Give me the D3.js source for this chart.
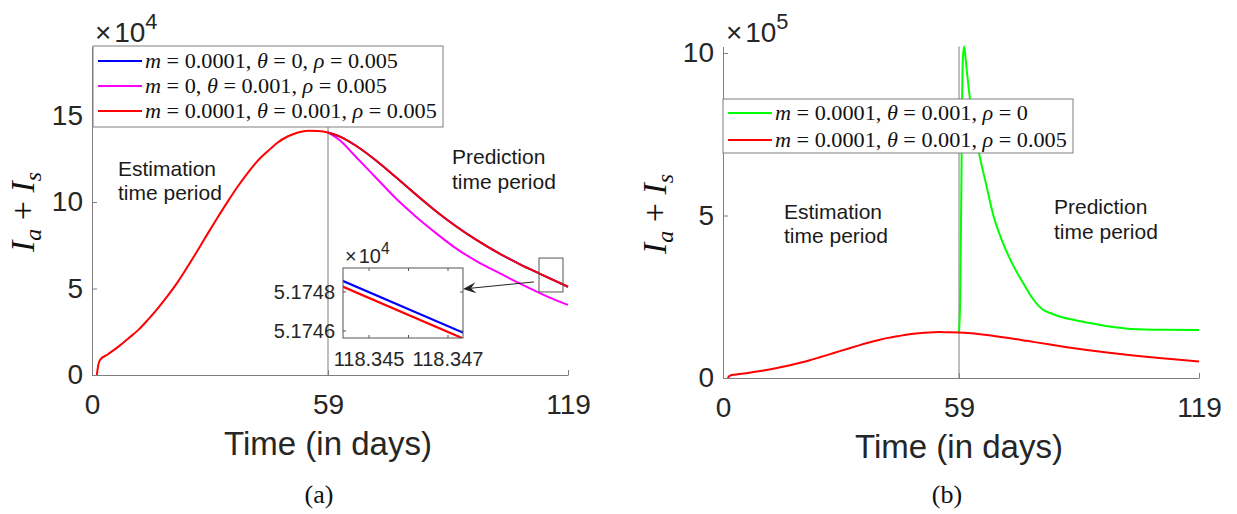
<!DOCTYPE html>
<html>
<head>
<meta charset="utf-8">
<script src="https://cdn.jsdelivr.net/npm/d3@7"></script>
<style>
  body { margin: 0; background: #fff; }
  svg { display: block; }
</style>
</head>
<body>
<svg id="fig" width="1237" height="514"></svg>
<script>
// ---------------- data: I_a + I_s, in units of 10^4 ----------------
// estimation period (fitted curve, shared by all parameter sets)
const tEst   = [1.2, 1.6, 2, 4, 6.6, 9, 11.6, 14, 16.5, 19, 21.5, 24, 26.4, 29, 31.4, 34, 36.3, 39, 41.3, 44, 46.2, 49, 51.5, 54, 56.5, 59];
const redEst = [0, 0.6, 0.87, 1.2, 1.64, 2.1, 2.61, 3.2, 3.87, 4.6, 5.4, 6.3, 7.2, 8.2, 9.1, 10.05, 10.85, 11.7, 12.35, 12.95, 13.4, 13.8, 14.02, 14.12, 14.1, 14.02];

// prediction period
const tPred    = [59, 62, 66, 71, 76, 81, 86, 91, 96, 102, 107, 112, 119];
const redPred  = [14.02, 13.78, 13.25, 12.4, 11.43, 10.43, 9.47, 8.6, 7.82, 7.0, 6.4, 5.85, 5.1];
const bluePred = [14.02, 13.78, 13.25, 12.4, 11.43, 10.43, 9.47, 8.6, 7.82, 7.0, 6.4, 5.85, 5.1];

const tMag    = [59, 62, 66, 71, 76, 81, 86, 91, 96, 102, 106, 110, 114, 119];
const magPred = [14.02, 13.55, 12.6, 11.4, 10.2, 9.15, 8.2, 7.32, 6.6, 5.87, 5.4, 4.95, 4.52, 4.05];

// rho = 0 scenario
const tGreen = [59, 59.3, 59.6, 59.8, 60.0, 60.3, 60.6, 61, 61.75, 62.8, 64, 65.8, 67.6, 70, 72.6, 75, 77.5, 80, 82.4, 85, 87.3, 90, 94, 98, 102, 110, 119];
const green  = [14.02, 25, 60, 88, 99, 102, 99, 94, 85.8, 77, 69.2, 59.5, 50, 41.5, 34.5, 29.3, 24.3, 21, 19.7, 18.6, 18.0, 17.3, 16.4, 15.6, 15.1, 14.85, 14.8];

// zoomed window near t = 118.345
const insetT    = [118.3443, 118.3474];
const insetBlue = [5.17486, 5.17459];
const insetRed  = [5.17483, 5.17456];

// ticks
const xTicks = [0, 59, 119];
const yTicksA = [0, 5, 10, 15];
const yTicksB = [0, 50, 100];          // shown as 0, 5, 10 (x10^5)
const insetXTicks = [118.345, 118.346, 118.347];
const insetXLabels = [118.345, 118.347];
const insetYTicks = [5.1746, 5.1748];

const legendA = [
  { text: "m = 0.0001, θ = 0, ρ = 0.005",     color: "#0000ff" },
  { text: "m = 0, θ = 0.001, ρ = 0.005",      color: "#ff00ff" },
  { text: "m = 0.0001, θ = 0.001, ρ = 0.005", color: "#ff0000" }
];
const legendB = [
  { text: "m = 0.0001, θ = 0.001, ρ = 0",     color: "#00ff00" },
  { text: "m = 0.0001, θ = 0.001, ρ = 0.005", color: "#ff0000" }
];

// ---------------- drawing ----------------
const svg = d3.select("#fig");
const SANS = "'Liberation Sans', Arial, Helvetica, sans-serif";
const SERIF = "'Liberation Serif', 'Times New Roman', serif";
const AXIS = "#7f7f7f";
const INK = "#262626";

const zip = (a, b) => a.map((v, i) => [v, b[i]]);
const redFull = zip(tEst, redEst).concat(zip(tPred, redPred).slice(1));

function drawAxes(g, x, y, yTicks, yFmt) {
  const ax = g.append("g").attr("transform", `translate(0,${y.range()[0]})`)
    .call(d3.axisBottom(x).tickValues(xTicks).tickSize(-5).tickSizeOuter(0).tickPadding(19));
  const ay = g.append("g").attr("transform", `translate(${x.range()[0]},0)`)
    .call(d3.axisLeft(y).tickValues(yTicks).tickFormat(yFmt).tickSize(-5).tickSizeOuter(0).tickPadding(9));
  [ax, ay].forEach(a => {
    a.select(".domain").attr("stroke", AXIS).attr("stroke-width", 1);
    a.selectAll(".tick line").attr("stroke", AXIS);
    a.selectAll(".tick text").attr("fill", INK).style("font-family", SANS).style("font-size", "28px");
  });
}

function mathText(sel, str) {
  // italic variables, upright numbers and symbols
  const tokens = str.split(/([mθρ])/).filter(s => s.length);
  tokens.forEach(tok => {
    const ts = sel.append("tspan").text(tok);
    if (/^[mθρ]$/.test(tok)) ts.style("font-style", "italic");
  });
}

function drawLegend(g, items, x0, y0, w, h, rowY, targetW) {
  g.append("rect").attr("x", x0).attr("y", y0).attr("width", w).attr("height", h)
    .attr("fill", "#fff").attr("stroke", AXIS).attr("stroke-width", 1);
  items.forEach((it, i) => {
    const cy = rowY[i];
    g.append("line").attr("x1", x0 + 5).attr("x2", x0 + 49).attr("y1", cy).attr("y2", cy)
      .attr("stroke", it.color).attr("stroke-width", 2);
    const tg = g.append("g").attr("transform", `translate(${x0 + 52},${cy + 7})`);
    const t = tg.append("text").attr("fill", "#111").style("font-family", SERIF).style("font-size", "21px");
    mathText(t, it.text);
    it._node = t.node(); it._g = tg; it._y = cy + 7;
  });
  // widen the serif text to the width of a LaTeX rendering
  const longest = d3.max(items, it => it._node.getComputedTextLength());
  const sx = targetW / longest;
  items.forEach(it => it._g.attr("transform", `translate(${x0 + 52},${it._y}) scale(${sx},1)`));
}

function yLabel(g, cx, cy) {
  const t = g.append("text").attr("transform", `translate(${cx},${cy}) rotate(-90)`)
    .attr("text-anchor", "middle").attr("fill", "#111")
    .style("font-family", SERIF).style("font-size", "34px");
  t.append("tspan").style("font-style", "italic").text("I");
  t.append("tspan").style("font-style", "italic").style("font-size", "24px").attr("dy", 7).text("a");
  t.append("tspan").attr("dy", -7).text(" + ");
  t.append("tspan").style("font-style", "italic").text("I");
  t.append("tspan").style("font-style", "italic").style("font-size", "24px").attr("dy", 7).text("s");
}

function multiplier(g, x, y, exp, size) {
  const t = g.append("text").attr("x", x).attr("y", y).attr("fill", INK)
    .style("font-family", SANS).style("font-size", size + "px");
  t.append("tspan").text("×");
  t.append("tspan").attr("dx", size * 0.1).text("10");
  t.append("tspan").style("font-size", (size * 0.78) + "px").attr("dy", -size * 0.45).text(exp);
}

function periodText(g, x, y1, y2, l1, l2) {
  [[y1, l1], [y2, l2]].forEach(([yy, s]) =>
    g.append("text").attr("x", x).attr("y", yy).attr("fill", "#1a1a1a")
      .style("font-family", SANS).style("font-size", "21px").text(s));
}

// ================= panel (a) =================
const gA = svg.append("g");
const xA = d3.scaleLinear().domain([0, 119]).range([92, 568]);
const yA = d3.scaleLinear().domain([0, 19]).range([375, 46.3]);
const lineA = d3.line().x(d => xA(d[0])).y(d => yA(d[1])).curve(d3.curveMonotoneX);

gA.append("line").attr("x1", xA(59)).attr("x2", xA(59)).attr("y1", yA(0)).attr("y2", yA(19))
  .attr("stroke", AXIS).attr("stroke-width", 1);
gA.append("path").attr("d", lineA(zip(tMag, magPred))).attr("fill", "none").attr("stroke", "#ff00ff").attr("stroke-width", 2);
gA.append("path").attr("d", lineA(zip(tPred, bluePred))).attr("fill", "none").attr("stroke", "#0000ff").attr("stroke-width", 2);
gA.append("path").attr("d", lineA(redFull)).attr("fill", "none").attr("stroke", "#ff0000").attr("stroke-width", 2);

drawAxes(gA, xA, yA, yTicksA, d3.format("d"));
drawLegend(gA, legendA, 93, 46, 350, 81, [61, 86, 111], 292);
multiplier(gA, 95, 42, "4", 28);
yLabel(gA, 34, 212);
periodText(gA, 118, 176, 200, "Estimation", "time period");
periodText(gA, 452, 164, 189, "Prediction", "time period");

gA.append("text").attr("x", xA(59)).attr("y", 455).attr("text-anchor", "middle").attr("fill", INK)
  .style("font-family", SANS).style("font-size", "33px").text("Time (in days)");
svg.append("text").attr("x", 319).attr("y", 503).attr("text-anchor", "middle").attr("fill", "#111")
  .style("font-family", SERIF).style("font-size", "26px").text("(a)");

// marker box around the zoomed region and the inset
const boxT = [111.75, 117.75], boxV = [4.8, 6.76];
gA.append("rect").attr("x", xA(boxT[0])).attr("y", yA(boxV[1]))
  .attr("width", xA(boxT[1]) - xA(boxT[0])).attr("height", yA(boxV[0]) - yA(boxV[1]))
  .attr("fill", "none").attr("stroke", "#555").attr("stroke-width", 1);

const xI = d3.scaleLinear().domain([118.34434, 118.34738]).range([343, 463]);
const yI = d3.scaleLinear().domain([5.174564, 5.174923]).range([338, 268]);
const lineI = d3.line().x(d => xI(d[0])).y(d => yI(d[1]));
const gI = gA.append("g");
gI.append("rect").attr("x", 343).attr("y", 268).attr("width", 120).attr("height", 70).attr("fill", "#fff");
svg.append("defs").append("clipPath").attr("id", "insetClip")
  .append("rect").attr("x", 343).attr("y", 268).attr("width", 120).attr("height", 70);
const gIc = gI.append("g").attr("clip-path", "url(#insetClip)");
gIc.append("path").attr("d", lineI(zip(insetT, insetBlue))).attr("fill", "none").attr("stroke", "#0000ff").attr("stroke-width", 2.2);
gIc.append("path").attr("d", lineI(zip(insetT, insetRed))).attr("fill", "none").attr("stroke", "#ff0000").attr("stroke-width", 2.2);
insetXTicks.forEach(v => {
  gI.append("line").attr("x1", xI(v)).attr("x2", xI(v)).attr("y1", 268).attr("y2", 271).attr("stroke", "#555");
  gI.append("line").attr("x1", xI(v)).attr("x2", xI(v)).attr("y1", 338).attr("y2", 335).attr("stroke", "#555");
});
insetYTicks.forEach(v => {
  gI.append("line").attr("x1", 343).attr("x2", 346).attr("y1", yI(v)).attr("y2", yI(v)).attr("stroke", "#555");
  gI.append("line").attr("x1", 463).attr("x2", 460).attr("y1", yI(v)).attr("y2", yI(v)).attr("stroke", "#555");
  gI.append("text").attr("x", 335).attr("y", yI(v)).attr("dy", "0.35em").attr("text-anchor", "end")
    .attr("fill", INK).style("font-family", SANS).style("font-size", "20px").text(d3.format(".4f")(v));
});
insetXLabels.forEach(v => {
  gI.append("text").attr("x", xI(v)).attr("y", 366).attr("text-anchor", "middle")
    .attr("fill", INK).style("font-family", SANS).style("font-size", "20px").text(d3.format(".3f")(v));
});
gI.append("rect").attr("x", 343).attr("y", 268).attr("width", 120).attr("height", 70)
  .attr("fill", "none").attr("stroke", "#555").attr("stroke-width", 1);
multiplier(gI, 345, 263, "4", 20);

// arrow from the marker box to the inset
(function arrow() {
  const tail = [xA(boxT[0]) - 5, yA(5.38)];
  const head = [463, 289];
  const dx = head[0] - tail[0], dy = head[1] - tail[1];
  const L = Math.hypot(dx, dy), ux = dx / L, uy = dy / L, px = -uy, py = ux;
  const len = 13, hw = 5.5, notch = 8;
  gA.append("line").attr("x1", tail[0]).attr("y1", tail[1])
    .attr("x2", head[0] - ux * notch).attr("y2", head[1] - uy * notch)
    .attr("stroke", "#222").attr("stroke-width", 1);
  const pts = [
    head,
    [head[0] - ux * len + px * hw, head[1] - uy * len + py * hw],
    [head[0] - ux * notch, head[1] - uy * notch],
    [head[0] - ux * len - px * hw, head[1] - uy * len - py * hw]
  ];
  gA.append("path").attr("d", "M" + pts.map(p => p.join(",")).join("L") + "Z").attr("fill", "#222");
})();

// ================= panel (b) =================
const gB = svg.append("g");
const xB = d3.scaleLinear().domain([0, 119]).range([723, 1199]);
const yB = d3.scaleLinear().domain([0, 102]).range([378, 46.5]);
const lineB = d3.line().x(d => xB(d[0])).y(d => yB(d[1])).curve(d3.curveMonotoneX);

gB.append("line").attr("x1", xB(59)).attr("x2", xB(59)).attr("y1", yB(0)).attr("y2", yB(102))
  .attr("stroke", AXIS).attr("stroke-width", 1);
gB.append("path").attr("d", lineB(zip(tGreen, green))).attr("fill", "none").attr("stroke", "#00ff00").attr("stroke-width", 2);
gB.append("path").attr("d", lineB(redFull)).attr("fill", "none").attr("stroke", "#ff0000").attr("stroke-width", 2);

drawAxes(gB, xB, yB, yTicksB, d => d3.format("d")(d / 10));
drawLegend(gB, legendB, 723, 99, 350, 54, [113, 140], 292);
multiplier(gB, 726, 42, "5", 28);
yLabel(gB, 666, 214);
periodText(gB, 784, 219, 243, "Estimation", "time period");
periodText(gB, 1054, 214, 239, "Prediction", "time period");

gB.append("text").attr("x", xB(59)).attr("y", 458).attr("text-anchor", "middle").attr("fill", INK)
  .style("font-family", SANS).style("font-size", "33px").text("Time (in days)");
svg.append("text").attr("x", 947).attr("y", 503).attr("text-anchor", "middle").attr("fill", "#111")
  .style("font-family", SERIF).style("font-size", "26px").text("(b)");
</script>
</body>
</html>
